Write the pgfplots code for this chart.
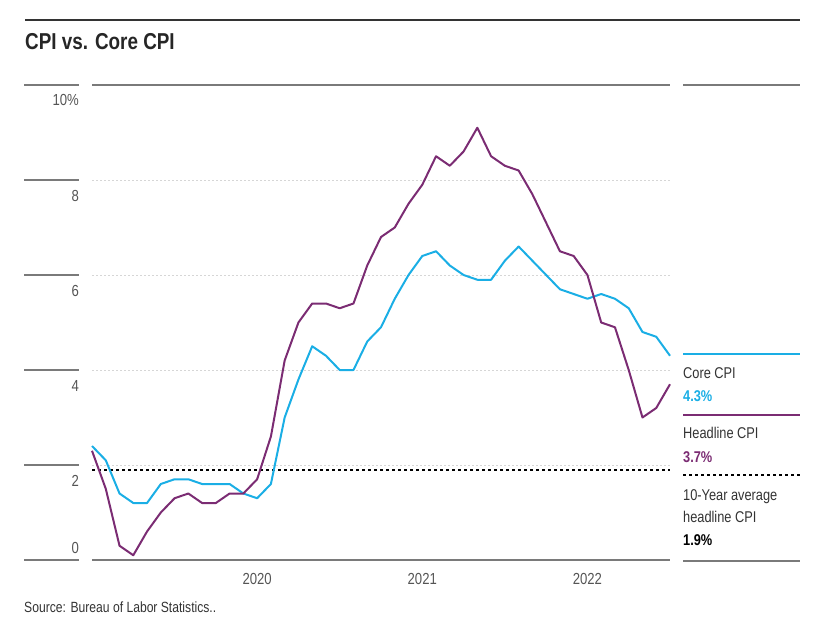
\documentclass[border=0pt]{standalone}
\usepackage{fontspec}
\setmainfont{Liberation Sans}[FakeStretch=0.82]
\usepackage{pgfplots}
\pgfplotsset{compat=1.18}
\definecolor{coreblue}{HTML}{1AAEE5}
\definecolor{headpurple}{HTML}{7B2C73}
\definecolor{txtgray}{HTML}{555555}
\definecolor{linegray}{HTML}{7A7A7A}
\definecolor{gridgray}{HTML}{D6D6D6}
\begin{document}
\begin{tikzpicture}
\path[use as bounding box] (0pt,0pt) rectangle (830pt,-642pt);
\begin{axis}[
  at={(92pt,-560pt)}, anchor=south west,
  scale only axis, width=578pt, height=475pt,
  xmin=0, xmax=42, ymin=0, ymax=10,
  axis line style={draw=none},
  ytick={2,4,6,8}, yticklabels={},
  ymajorgrids, grid style={gridgray, line width=1pt, dash pattern=on 1.5pt off 2.5pt},
  major tick length=0pt,
  xtick={12,24,36}, xticklabels={2020,2021,2022},
  xticklabel style={font=\fontsize{16}{18}\selectfont, text=txtgray, anchor=base, yshift=-24pt},
  /pgf/number format/assume math mode=true,
  clip=false,
]
\draw[linegray, line width=1.2pt] (rel axis cs:0,1) -- (rel axis cs:1,1);
\draw[linegray, line width=1.2pt] (rel axis cs:0,0) -- (rel axis cs:1,0);
\addplot[black, line width=2pt, dash pattern=on 2.5pt off 3.5pt] coordinates {(0,1.9) (42,1.9)};
\addplot[coreblue, line width=2pt, line join=round] coordinates {
(0,2.4)(1,2.1)(2,1.4)(3,1.2)(4,1.2)(5,1.6)(6,1.7)(7,1.7)(8,1.6)(9,1.6)(10,1.6)
(11,1.4)(12,1.3)(13,1.6)(14,3.0)(15,3.8)(16,4.5)(17,4.3)(18,4.0)(19,4.0)(20,4.6)(21,4.9)(22,5.5)
(23,6.0)(24,6.4)(25,6.5)(26,6.2)(27,6.0)(28,5.9)(29,5.9)(30,6.3)(31,6.6)(32,6.3)(33,6.0)(34,5.7)
(35,5.6)(36,5.5)(37,5.6)(38,5.5)(39,5.3)(40,4.8)(41,4.7)(42,4.3)};
\addplot[headpurple, line width=2pt, line join=round] coordinates {
(0,2.3)(1,1.5)(2,0.3)(3,0.1)(4,0.6)(5,1.0)(6,1.3)(7,1.4)(8,1.2)(9,1.2)(10,1.4)
(11,1.4)(12,1.7)(13,2.6)(14,4.2)(15,5.0)(16,5.4)(17,5.4)(18,5.3)(19,5.4)(20,6.2)(21,6.8)(22,7.0)
(23,7.5)(24,7.9)(25,8.5)(26,8.3)(27,8.6)(28,9.1)(29,8.5)(30,8.3)(31,8.2)(32,7.7)(33,7.1)(34,6.5)
(35,6.4)(36,6.0)(37,5.0)(38,4.9)(39,4.0)(40,3.0)(41,3.2)(42,3.7)};
\end{axis}
\begin{scope}[x=1pt,y=1pt]
% top rule and title
\draw[line width=2pt, color=black!80] (25,-20) -- (800,-20);
\node[anchor=base west, inner sep=0] at (25,-49) {\fontsize{23}{28}\selectfont\bfseries\color{black!85}CPI vs. Core CPI};
% left tick rules and labels
\foreach \yy in {85,180,275,370,465,560} {\draw[linegray, line width=1.2pt] (24,-\yy) -- (79,-\yy);}
\begin{scope}[every node/.style={anchor=base east, inner sep=0, font=\fontsize{16}{18}\selectfont, text=txtgray}]
\node at (79,-106) {10\%};
\node at (79,-201) {8};
\node at (79,-296) {6};
\node at (79,-391) {4};
\node at (79,-486) {2};
\node at (79,-553) {0};
\end{scope}
% right panel
\draw[linegray, line width=1.2pt] (683,-85) -- (800,-85);
\draw[linegray, line width=1.2pt] (683,-561) -- (800,-561);
\draw[coreblue, line width=2pt] (683,-354) -- (800,-354);
\draw[headpurple, line width=2pt] (683,-415) -- (800,-415);
\draw[black, line width=2pt, dash pattern=on 2.5pt off 3.5pt] (683,-475) -- (800,-475);
\begin{scope}[every node/.style={anchor=base west, inner sep=0, font=\fontsize{15.6}{18}\selectfont, text=black!80}]
\node at (683,-378) {Core CPI};
\node at (683,-401) {\bfseries\color{coreblue}4.3\%};
\node at (683,-438) {Headline CPI};
\node at (683,-462) {\bfseries\color{headpurple}3.7\%};
\node at (683,-500) {10-Year average};
\node at (683,-522) {headline CPI};
\node at (683,-545) {\bfseries\color{black}1.9\%};
\end{scope}
\node[anchor=base west, inner sep=0, font=\fontsize{14.8}{17}\selectfont, text=black!80] at (24,-612) {Source: Bureau of Labor Statistics..};
\end{scope}
\end{tikzpicture}
\end{document}
